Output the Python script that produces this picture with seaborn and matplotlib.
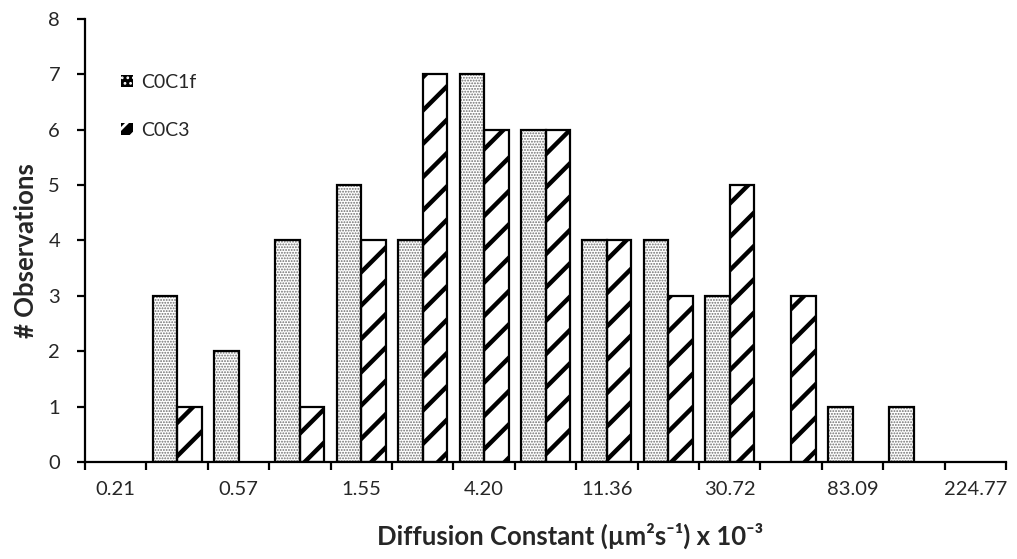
import pandas as pd
import matplotlib.pyplot as plt
import seaborn as sns
from matplotlib.patches import Rectangle

# bins of the diffusion constant (only every other one is labelled on the axis)
bins = ['0.21', '0.35', '0.57', '0.94', '1.55', '2.55', '4.20', '6.93',
        '11.36', '18.73', '30.72', '50.65', '83.09', '137.00', '224.77']
c0c1f = [0, 3, 2, 4, 5, 4, 7, 6, 4, 4, 3, 0, 1, 1, 0]
c0c3 = [0, 1, 0, 1, 4, 7, 6, 6, 4, 3, 5, 3, 0, 0, 0]
series = ['C0C1f', 'C0C3']


def build_frame():
    df = pd.DataFrame({'bin': bins * 2,
                       'count': c0c1f + c0c3,
                       'sample': [series[0]] * len(bins) + [series[1]] * len(bins)})
    return df


def set_hatch_lw(patch, lw):
    # per-patch hatch width (matplotlib >= 3.10), otherwise keep the rc value
    if hasattr(patch, 'set_hatch_linewidth'):
        patch.set_hatch_linewidth(lw)


def plot_histogram():
    sns.set_style('white')
    plt.rcParams['font.family'] = ['Lato', 'DejaVu Sans']
    plt.rcParams['hatch.linewidth'] = 3.0

    df = build_frame()
    fig = plt.figure(figsize=(10.17, 5.59), dpi=100)
    ax = fig.add_axes([0.0836, 0.1735, 0.9056, 0.793])

    sns.barplot(data=df, x='bin', y='count', hue='sample', order=bins,
                hue_order=series, width=0.8, ax=ax, legend=False,
                palette=['white', 'white'], saturation=1)

    # hatch patterns, then a black outline on top of each bar
    styles = [('......', '#6e6e6e', 0.9), ('/', 'black', 3.2)]
    for container, (hatch, hcolor, hlw) in zip(ax.containers, styles):
        for bar in container:
            bar.set_hatch(hatch)
            bar.set_edgecolor(hcolor)
            bar.set_linewidth(0)
            set_hatch_lw(bar, hlw)
            if bar.get_height() > 0:
                ax.add_patch(Rectangle((bar.get_x(), bar.get_y()), bar.get_width(),
                                       bar.get_height(), fill=False,
                                       edgecolor='black', linewidth=1.6, zorder=3))

    # legend with small square handles
    handles = [Rectangle((0, 0), 1, 1, facecolor='black', edgecolor='white',
                         hatch='...', linewidth=0),
               Rectangle((0, 0), 1, 1, facecolor='black', edgecolor='white',
                         hatch='//', linewidth=0)]
    leg = ax.legend(handles, series, loc='upper left', bbox_to_anchor=(0.02, 0.915),
                    frameon=False, fontsize=14, handlelength=0.6, handleheight=0.6,
                    handletextpad=0.45, labelspacing=1.6)
    for h, hlw in zip(leg.legend_handles, [1.2, 2.0]):
        h.set_linewidth(0)
        set_hatch_lw(h, hlw)
    for t in leg.get_texts():
        t.set_color('#262626')

    # axes styling
    ax.set_xlim(-0.5, len(bins) - 0.5)
    ax.set_ylim(0, 8)
    ax.set_yticks(range(0, 9))
    ax.set_xticks(range(0, len(bins), 2))
    ax.set_xticklabels([bins[i] for i in range(0, len(bins), 2)])
    ax.set_xticks([i - 0.5 for i in range(len(bins) + 1)], minor=True)
    ax.tick_params(axis='x', which='major', length=0, labelsize=14.5, pad=14,
                   colors='#262626')
    ax.tick_params(axis='x', which='minor', length=6, width=1.6, direction='out',
                   color='black', bottom=True)
    ax.tick_params(axis='y', length=6, width=1.6, direction='out', labelsize=14.5,
                   color='black', labelcolor='#262626', left=True, pad=12)
    for side in ['top', 'right']:
        ax.spines[side].set_visible(False)
    for side in ['left', 'bottom']:
        ax.spines[side].set_linewidth(1.6)
        ax.spines[side].set_color('black')

    ax.set_xlabel('Diffusion Constant (µm²s⁻¹) x 10⁻³', fontsize=18.5,
                  fontweight='bold')
    ax.set_ylabel('# Observations', fontsize=18.5, fontweight='bold')
    ax.xaxis.set_label_coords(0.527, -0.138)
    ax.yaxis.set_label_coords(-0.051, 0.476)

    plt.savefig('out.png', dpi=100)
    plt.close()


if __name__ == "__main__":
    plot_histogram()
